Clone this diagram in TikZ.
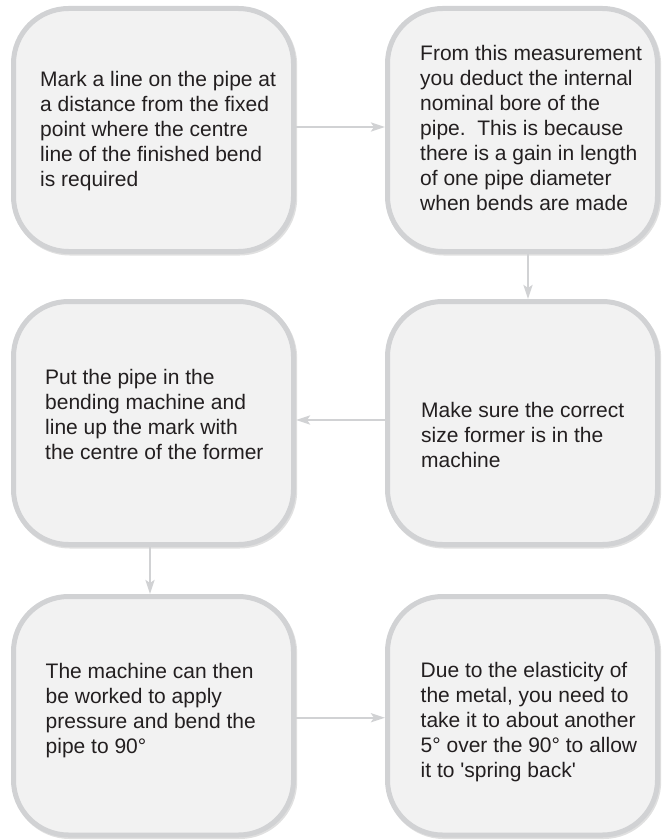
\documentclass[tikz,border=0pt]{standalone}
\usepackage{fontspec}
\setmainfont{Liberation Sans}[Ligatures=TeXOff]
\usetikzlibrary{arrows.meta,shadows}
\definecolor{boxfill}{HTML}{F2F2F2}
\definecolor{boxline}{HTML}{D1D2D4}
\definecolor{arrowc}{HTML}{D1D2D4}
\definecolor{txt}{HTML}{231F20}
\begin{document}
\begin{tikzpicture}[x=1pt,y=-1pt,
  stepbox/.style={draw=boxline, line width=5pt, fill=boxfill, rounded corners=55pt,
    inner sep=0pt, drop shadow={shadow xshift=1.2pt, shadow yshift=-1.5pt, draw=black, line width=5pt, fill=black, opacity=0.12}},
  lbox/.style={stepbox, minimum width=280pt},
  rbox/.style={stepbox, minimum width=270pt},
  txtnode/.style={anchor=north west, inner sep=0pt, align=left, text=txt,
    font=\fontsize{21pt}{25pt}\selectfont},
  arr/.style={draw=arrowc, line width=2.5pt, -{Stealth[length=14pt,width=9pt,inset=3pt]}}
]
\useasboundingbox (0,0) rectangle (664,840);
% boxes
\node[lbox, minimum height=243pt] (b1) at (153.5,130) {};
\node[rbox, minimum height=243pt] (b2) at (522.5,130) {};
\node[rbox, minimum height=243pt] (b3) at (522.5,423) {};
\node[lbox, minimum height=243pt] (b4) at (153.5,423) {};
\node[lbox, minimum height=238.5pt] (b5) at (153.5,715.75) {};
\node[rbox, minimum height=238.5pt] (b6) at (522.5,715.75) {};
% texts
\node[txtnode] (t1) at (40,70) {\rule{0pt}{16pt}Mark a line on the pipe at\\a distance from the fixed\\point where the centre\\line of the finished bend\\is required};
\node[txtnode] (t2) at (420,44) {\rule{0pt}{16pt}From this measurement\\you deduct the internal\\nominal bore of the\\pipe.\ \ This is because\\there is a gain in length\\of one pipe diameter\\when bends are made};
\node[txtnode] (t3) at (421,401) {\rule{0pt}{16pt}Make sure the correct\\size former is in the\\machine};
\node[txtnode] (t4) at (45,368) {\rule{0pt}{16pt}Put the pipe in the\\bending machine and\\line up the mark with\\the centre of the former};
\node[txtnode] (t5) at (45.5,662) {\rule{0pt}{16pt}The machine can then\\be worked to apply\\pressure and bend the\\pipe to 90°};
\node[txtnode] (t6) at (420.5,661) {\rule{0pt}{16pt}Due to the elasticity of\\the metal, you need to\\take it to about another\\5° over the 90° to allow\\it to 'spring back'};
% arrows
\draw[arr] ([yshift=3pt]b1.east) -- ([yshift=3pt]b2.west);
\draw[arr] ([xshift=5.5pt]b2.south) -- ([xshift=5.5pt]b3.north);
\draw[arr] ([yshift=3pt]b3.west) -- ([yshift=3pt]b4.east);
\draw[arr] ([xshift=-3.5pt]b4.south) -- ([xshift=-3.5pt]b5.north);
\draw[arr] ([yshift=-2pt]b5.east) -- ([yshift=-2pt]b6.west);
\end{tikzpicture}
\end{document}
